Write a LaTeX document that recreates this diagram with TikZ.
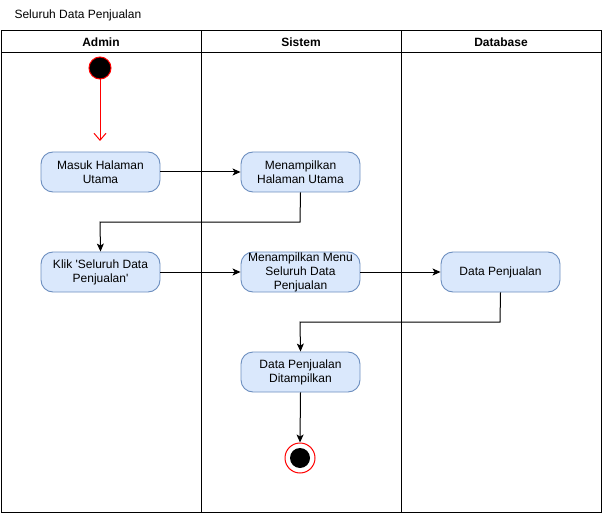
\documentclass[tikz,border=0pt]{standalone}
\usepackage{fontspec}
\setmainfont{Liberation Sans}
\usetikzlibrary{arrows.meta}
\definecolor{boxfill}{HTML}{DAE8FC}
\definecolor{boxline}{HTML}{6C8EBF}
\definecolor{startred}{HTML}{FF0000}
\begin{document}
\begin{tikzpicture}[x=1pt,y=-1pt,
  act/.style={draw=boxline,fill=boxfill,rounded corners=12pt,line width=0.9pt,
    minimum width=119pt,minimum height=40pt,inner sep=0pt,align=center,
    font=\fontsize{12}{14}\selectfont},
  lanehead/.style={font=\bfseries\fontsize{12}{14}\selectfont},
  flow/.style={draw=black,line width=1pt,-{Stealth[length=8pt,width=7pt,inset=2pt]}},
  lane/.style={draw=black,line width=1pt}]
\useasboundingbox (0,0) rectangle (602,513);
% title
\node[anchor=west,font=\fontsize{12}{14}\selectfont] (title) at (11,15) {Seluruh Data Penjualan};
% pool
\draw[lane] (1,31) rectangle (601,512);
\draw[lane] (1,53) -- (601,53);
\draw[lane] (201,31) -- (201,512);
\draw[lane] (401,31) -- (401,512);
\node[lanehead] (h1) at (101,42) {Admin};
\node[lanehead] (h2) at (301,42) {Sistem};
\node[lanehead] (h3) at (501,42) {Database};
% start
\node[circle,fill=black,draw=startred,line width=1pt,minimum size=22pt,inner sep=0pt] (start) at (100,68) {};
% activities
\node[act] (a1) at (100.5,172) {Masuk Halaman\\Utama};
\node[act] (a2) at (300.5,172) {Menampilkan\\Halaman Utama};
\node[act] (a3) at (100.5,272) {Klik \textquotesingle Seluruh Data\\Penjualan\textquotesingle};
\node[act] (a4) at (300.5,272) {Menampilkan Menu\\Seluruh Data\\Penjualan};
\node[act] (a5) at (500.5,272) {Data Penjualan};
\node[act] (a6) at (300.5,372) {Data Penjualan\\Ditampilkan};
% end
\node[circle,fill=white,draw=startred,line width=1pt,minimum size=30pt,inner sep=0pt] (endo) at (300,458) {};
\node[circle,fill=black,minimum size=20pt,inner sep=0pt] (endi) at (300,458) {};
% connectors
\draw[draw=startred,line width=1pt,-{Straight Barb[length=7pt,width=12pt]}] (start) -- (100,141) coordinate (s1);
\draw[flow] (a1) -- (a2);
\draw[flow] (a2.south) -- (300,222) -- (100,222) -- (a3.north);
\draw[flow] (a3) -- (a4);
\draw[flow] (a4) -- (a5);
\draw[flow] (a5.south) -- (500,322) -- (300,322) -- (a6.north);
\draw[flow] (a6.south) -- (endo.north);
\end{tikzpicture}
\end{document}
